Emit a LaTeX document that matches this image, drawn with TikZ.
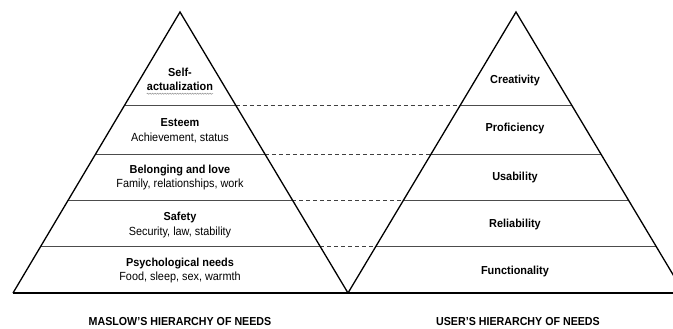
\documentclass[tikz,border=0pt]{standalone}
\usepackage{fontspec}
\setmainfont{Liberation Sans}
\newfontfamily\condsans[FakeStretch=0.94]{Liberation Sans}
\newfontfamily\condsub[FakeStretch=0.92]{Liberation Sans}
\usetikzlibrary{calc,decorations.pathmorphing}
\tikzset{
  edge/.style={line width=1.3pt, black, line join=miter},
  level/.style={line width=0.9pt, black!70},
  link/.style={line width=0.8pt, black!75, dash pattern=on 4pt off 3pt},
  head/.style={font=\condsans\fontsize{11.6}{14}\selectfont\bfseries, inner sep=0pt, anchor=base},
  sub/.style={font=\condsub\fontsize{11.8}{14}\selectfont, inner sep=0pt, anchor=base},
  caption/.style={font=\condsub\fontsize{11.6}{12}\selectfont\bfseries, inner sep=0pt, anchor=base}
}
\begin{document}
\begin{tikzpicture}[x=1pt,y=-1pt]
\useasboundingbox (0,0) rectangle (673,329);
\clip (0,0) rectangle (673,329);
% triangle corners
\coordinate (LA) at (180,12);
\coordinate (LL) at (13,293);
\coordinate (LR) at (348,293);
\coordinate (RA) at (516,12);
\coordinate (RL) at (348,293);
\coordinate (RR) at (684,293);
\coordinate (BR) at (680,293);
% level points
\foreach \n/\t in {1/0.331,2/0.5053,3/0.669,4/0.8327}{
  \coordinate (ll\n) at ($(LA)!\t!(LL)$);
  \coordinate (lr\n) at ($(LA)!\t!(LR)$);
  \coordinate (rl\n) at ($(RA)!\t!(RL)$);
  \coordinate (rr\n) at ($(RA)!\t!(RR)$);
}
% level lines
\foreach \n in {1,2,3,4}{
  \draw[level] (ll\n) -- (lr\n);
  \draw[level] (rl\n) -- (rr\n);
  \draw[link] (lr\n) -- (rl\n);
}
% triangles
\draw[edge] (LL) -- (LA) -- (LR);
\draw[edge] (RL) -- (RA) -- (RR);
\draw[edge] (LL) -- (BR);
% left labels
\node[head] (sa1) at (180,76.7) {Self-};
\node[head] (sa2) at (180,90.7) {actualization};
\draw[black!45, line width=0.5pt, decorate, decoration={snake, amplitude=0.6pt, segment length=2.5pt}] ($(sa2.base west)+(0,3)$) -- ($(sa2.base east)+(0,3)$);
\node[head] (es) at (180,126.7) {Esteem};
\node[sub] (es2) at (180,141.7) {Achievement, status};
\node[head] (be) at (180,173.3) {Belonging and love};
\node[sub] (be2) at (180,187.3) {Family, relationships, work};
\node[head] (sf) at (180,220) {Safety};
\node[sub] (sf2) at (180,235) {Security, law, stability};
\node[head] (ps) at (180,266.7) {Psychological needs};
\node[sub] (ps2) at (180,280.5) {Food, sleep, sex, warmth};
% right labels
\node[head] (cr) at (515,83.3) {Creativity};
\node[head] (pr) at (515,131.7) {Proficiency};
\node[head] (us) at (515,180) {Usability};
\node[head] (re) at (515,227.7) {Reliability};
\node[head] (fu) at (515,274.3) {Functionality};
% captions
\node[caption] (cl) at (180,325.7) {MASLOW’S HIERARCHY OF NEEDS};
\node[caption] (cr2) at (518,325.7) {USER’S HIERARCHY OF NEEDS};
\end{tikzpicture}
\end{document}
